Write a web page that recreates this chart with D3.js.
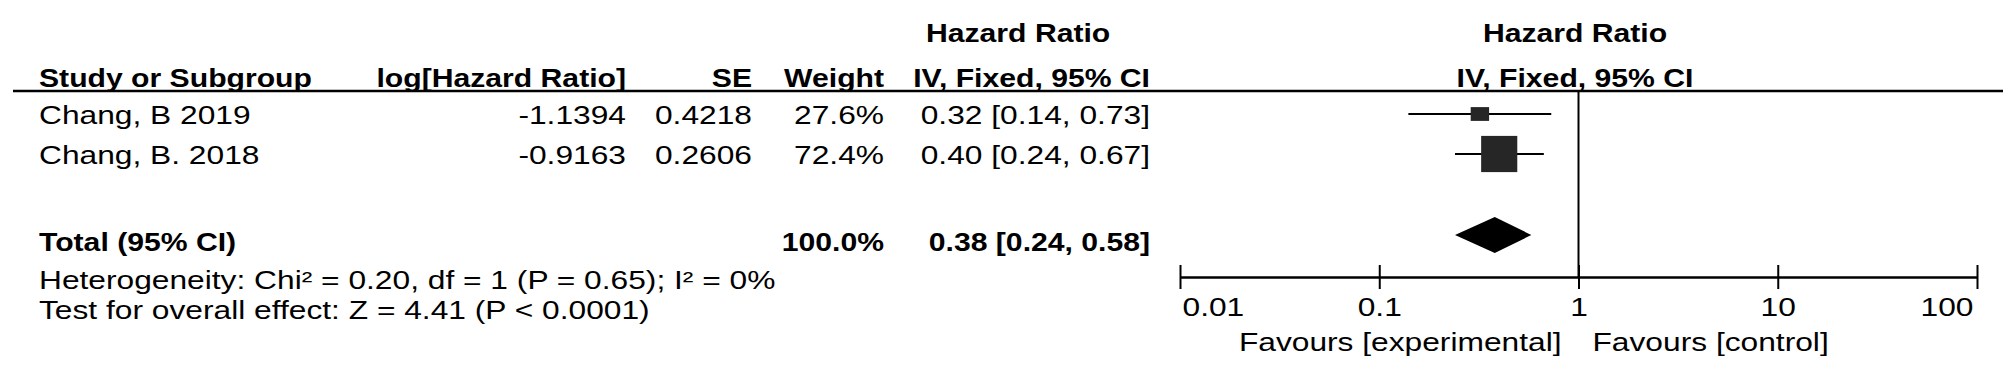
<head>
  <title>Forest plot</title>
  <script src="https://d3js.org/d3.v7.min.js"></script>
  <meta charset="utf-8">
  <style>
    body { margin: 0; background: #fff; }
    text { font-family: "Liberation Sans", Arial, sans-serif; font-size: 26px; fill: #000; }
    .b { font-weight: bold; }
  </style>
</head>

<body>
  <div id="chart"></div>
  <script>

    // data
    var studies = ["Chang, B 2019", "Chang, B. 2018"];
    var logHR = [-1.1394, -0.9163];
    var se = [0.4218, 0.2606];
    var weight = [27.6, 72.4];
    var hr = [0.32, 0.40];
    var ciLow = [0.14, 0.24];
    var ciHigh = [0.73, 0.67];
    // pooled estimate: [hr, low, high, weight]
    var pooled = [0.38, 0.24, 0.58, 100.0];
    var footnotes = [
      "Heterogeneity: Chi\u00b2 = 0.20, df = 1 (P = 0.65); I\u00b2 = 0%",
      "Test for overall effect: Z = 4.41 (P < 0.0001)"
    ];
    var tickValues = [0.01, 0.1, 1, 10, 100];
    var tickLabels = ["0.01", "0.1", "1", "10", "100"];
    var favours = ["Favours [experimental]", "Favours [control]"];

    var width = 2008, height = 377;
    var sxReg = 1.22, sxBold = 1.16;   // stretch the text like the original bitmap font

    var svg = d3.select("#chart")
      .append("svg")
      .attr("width", width)
      .attr("height", height);

    // text baselines of the table rows
    var rowY = d3.scaleOrdinal()
      .domain(["title", "header", "s0", "s1", "total", "f0", "f1"])
      .range([42, 87, 124, 164, 251, 289, 319]);
    var x = d3.scaleLog().domain([0.01, 100]).range([1180, 1977]);
    var boxH = d3.scaleLinear().domain([0, 100]).range([0, 50]);
    var boxW = d3.scalePow().exponent(0.7).domain([0, 100]).range([0, 45.3]);

    var f2 = d3.format(".2f"), f4 = d3.format(".4f"), f1 = d3.format(".1f");

    function label(px, py, txt, anchor, bold) {
      return svg.append("text")
        .attr("class", bold ? "b" : null)
        .attr("text-anchor", anchor || "start")
        .attr("transform", "translate(" + px + "," + py + ") scale(" + (bold ? sxBold : sxReg) + ",1)")
        .text(txt);
    }

    // column positions
    var col = { study: 39, log: 626, se: 752, weight: 884, ci: 1150 };
    var plotMid = 1575;

    // headers
    label(926, rowY("title"), "Hazard Ratio", "start", true);
    label(plotMid, rowY("title"), "Hazard Ratio", "middle", true);
    label(col.study, rowY("header"), "Study or Subgroup", "start", true);
    label(col.log, rowY("header"), "log[Hazard Ratio]", "end", true);
    label(col.se, rowY("header"), "SE", "end", true);
    label(col.weight, rowY("header"), "Weight", "end", true);
    label(col.ci, rowY("header"), "IV, Fixed, 95% CI", "end", true);
    label(plotMid, rowY("header"), "IV, Fixed, 95% CI", "middle", true);

    svg.append("line")
      .attr("x1", 13).attr("x2", 2003)
      .attr("y1", 91).attr("y2", 91)
      .attr("stroke", "#000").attr("stroke-width", 2.5);

    // study rows
    studies.forEach(function (s, i) {
      var y = rowY("s" + i);
      label(col.study, y, s);
      label(col.log, y, f4(logHR[i]).replace("\u2212", "-"), "end");
      label(col.se, y, f4(se[i]), "end");
      label(col.weight, y, f1(weight[i]) + "%", "end");
      label(col.ci, y, f2(hr[i]) + " [" + f2(ciLow[i]) + ", " + f2(ciHigh[i]) + "]", "end");
    });

    // total row
    label(col.study, rowY("total"), "Total (95% CI)", "start", true);
    label(col.weight, rowY("total"), f1(pooled[3]) + "%", "end", true);
    label(col.ci, rowY("total"), f2(pooled[0]) + " [" + f2(pooled[1]) + ", " + f2(pooled[2]) + "]", "end", true);

    footnotes.forEach(function (t, i) {
      label(col.study, rowY("f" + i), t);
    });

    // line of no effect
    var axisY = 277;
    svg.append("line")
      .attr("x1", x(1)).attr("x2", x(1))
      .attr("y1", 91).attr("y2", axisY)
      .attr("stroke", "#000").attr("stroke-width", 2);

    // confidence intervals and weight boxes
    var markY = function (i) { return rowY("s" + i) - 10; };
    var marks = svg.append("g");
    marks.selectAll(".ci")
      .data(studies)
      .enter()
      .append("line")
      .attr("x1", function (d, i) { return x(ciLow[i]); })
      .attr("x2", function (d, i) { return x(ciHigh[i]); })
      .attr("y1", function (d, i) { return markY(i); })
      .attr("y2", function (d, i) { return markY(i); })
      .attr("stroke", "#000").attr("stroke-width", 2);

    marks.selectAll(".box")
      .data(studies)
      .enter()
      .append("rect")
      .attr("x", function (d, i) { return x(hr[i]) - boxW(weight[i]) / 2; })
      .attr("y", function (d, i) { return markY(i) - boxH(weight[i]) / 2; })
      .attr("width", function (d, i) { return boxW(weight[i]); })
      .attr("height", function (d, i) { return boxH(weight[i]); })
      .attr("fill", "#262626");

    // pooled diamond
    var dy = rowY("total") - 16;
    marks.append("path")
      .attr("d", "M" + x(pooled[1]) + "," + dy +
        "L" + x(pooled[0]) + "," + (dy - 18) +
        "L" + x(pooled[2]) + "," + dy +
        "L" + x(pooled[0]) + "," + (dy + 18) + "Z")
      .attr("fill", "#000");

    // axis
    var axis = svg.append("g")
      .attr("transform", "translate(0," + axisY + ")")
      .call(d3.axisBottom(x)
        .tickValues(tickValues)
        .tickFormat(function (d, i) { return tickLabels[i]; })
        .tickSize(12)
        .tickSizeOuter(0));

    axis.select(".domain").attr("stroke", "#000").attr("stroke-width", 2.5);
    axis.selectAll(".tick line")
      .attr("y1", -12).attr("y2", 12)
      .attr("stroke", "#000").attr("stroke-width", 2);
    axis.selectAll(".tick text")
      .attr("fill", "#000")
      .attr("y", 39).attr("dy", 0)
      .attr("transform", "scale(" + sxReg + ",1)")
      .attr("text-anchor", function (d, i) {
        return i === 0 ? "start" : (i === tickValues.length - 1 ? "end" : "middle");
      })
      .attr("x", function (d, i) { return i === 0 ? 2 / sxReg : (i === tickValues.length - 1 ? -4 / sxReg : 0); });
    axis.attr("font-family", null).attr("font-size", null);

    label(x(1) - 17, 351, favours[0], "end");
    label(x(1) + 14, 351, favours[1], "start");

  </script>
</body>

</html>
